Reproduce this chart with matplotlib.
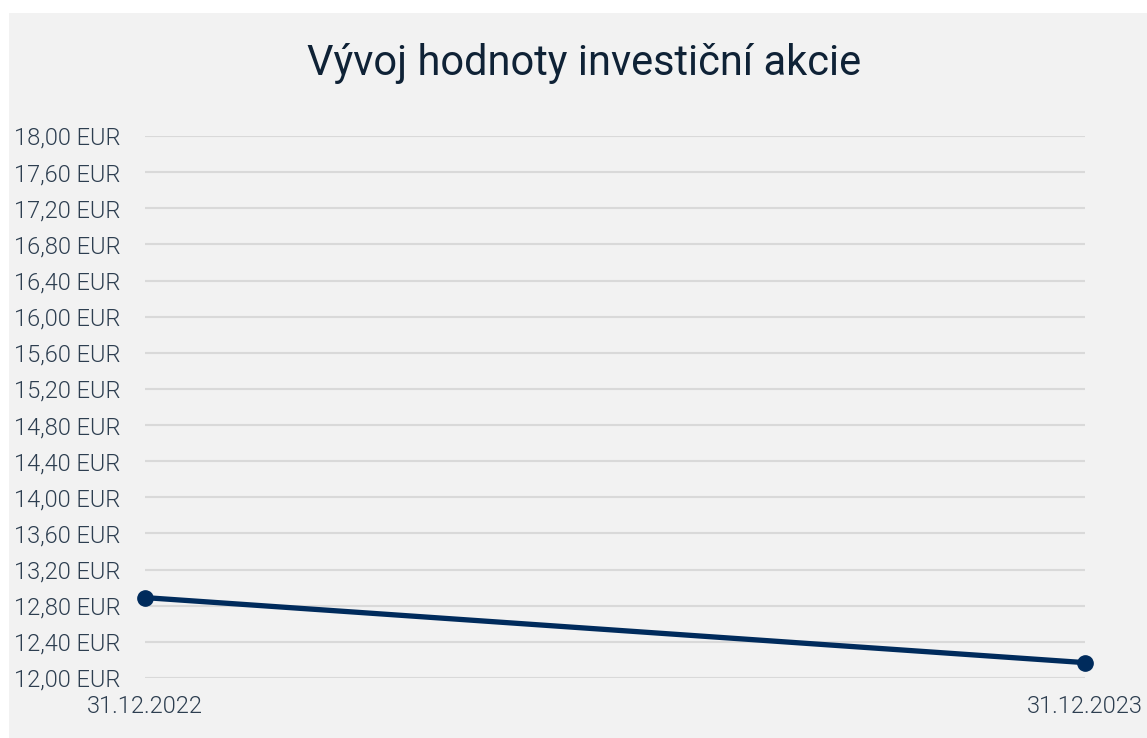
import matplotlib
matplotlib.use("Agg")
import matplotlib.pyplot as plt
from matplotlib.patches import Rectangle
from matplotlib.ticker import FuncFormatter, FixedLocator

# data
dates = ["31.12.2022", "31.12.2023"]
values = [12.89, 12.17]
y_ticks = [12.0 + 0.4 * i for i in range(16)]

plt.rcParams['font.family'] = ['Roboto', 'DejaVu Sans']

fig = plt.figure(figsize=(11.47, 7.38), dpi=100)
fig.patch.set_facecolor("white")
# gray panel
fig.patches.append(Rectangle((9 / 1147, 0), 1 - 9 / 1147, 1 - 13 / 738,
                             transform=fig.transFigure, facecolor="#f2f2f2",
                             edgecolor="none", zorder=-5))

ax = fig.add_axes([145 / 1147, 60 / 738, 940 / 1147, 542 / 738])
ax.set_facecolor("none")

x = list(range(len(dates)))
ax.plot(x, values, color="#002b5c", lw=3.8, marker="o", ms=11,
        solid_capstyle="round", zorder=3, clip_on=False)

ax.set_xlim(0, len(dates) - 1)
ax.set_ylim(12, 18)
ax.set_yticks(y_ticks)
ax.yaxis.set_major_formatter(FuncFormatter(lambda v, p: f"{v:.2f}".replace(".", ",") + " EUR"))
ax.grid(axis="y", color="#d9d9d9", lw=1.5)
ax.set_axisbelow(True)

for s in ax.spines.values():
    s.set_visible(False)

ax.tick_params(axis="y", length=0, pad=94.5, labelsize=17, labelcolor="#2d3e50")
for lab in ax.get_yticklabels():
    lab.set_horizontalalignment("left")
    lab.set_fontweight(300)

ax.set_xticks(x)
ax.set_xticklabels(dates)
ax.tick_params(axis="x", length=0, pad=12, labelsize=17, labelcolor="#2d3e50")
for lab in ax.get_xticklabels():
    lab.set_fontweight(300)
ax.xaxis.set_minor_locator(FixedLocator([0]))
ax.tick_params(axis="x", which="minor", length=6, width=1.5, color="#d9d9d9")

fig.text(584 / 1147, 1 - 75 / 738, "Vývoj hodnoty investiční akcie",
         ha="center", va="baseline", fontsize=30, color="#0f2236")

fig.savefig("out.png", dpi=100, facecolor=fig.get_facecolor())
